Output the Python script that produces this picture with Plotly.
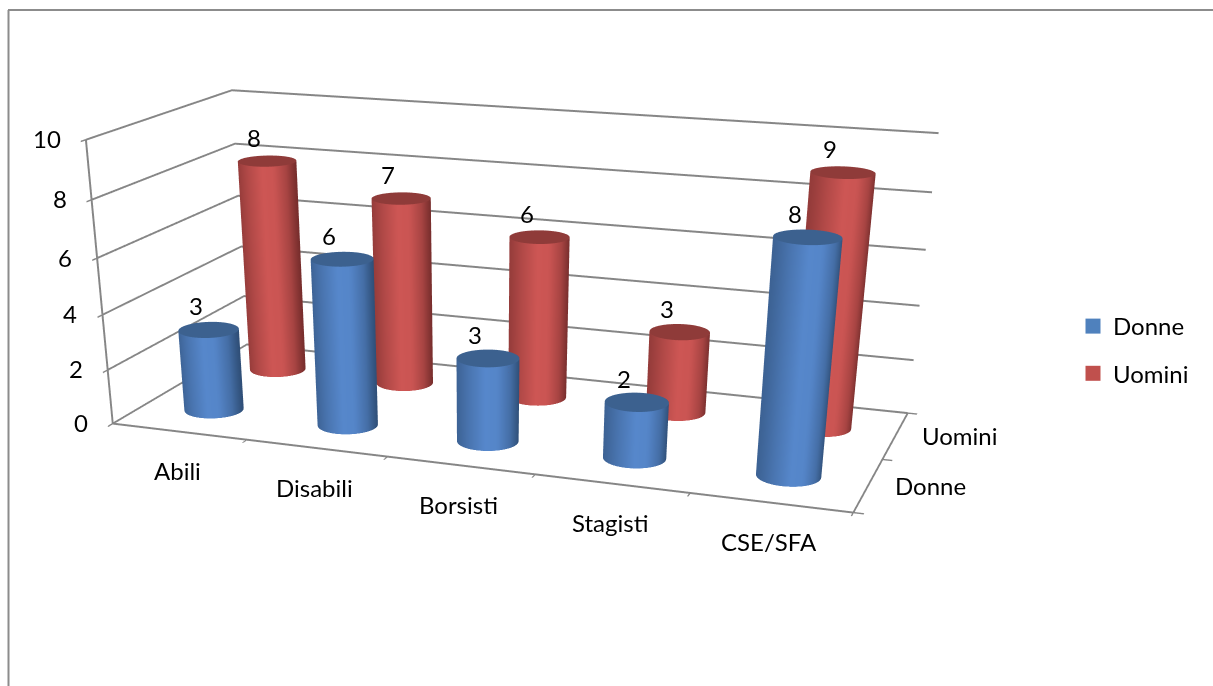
import numpy as np
import plotly.graph_objects as go

categories = ["Abili", "Disabili", "Borsisti", "Stagisti", "CSE/SFA"]
series_names = ["Donne", "Uomini"]
donne = [3, 6, 3, 2, 8]
uomini = [8, 7, 6, 3, 9]
z_ticks = [0, 2, 4, 6, 8, 10]

W, H = 1213, 1600
PX = 480.0
eye = np.array([1.649, -4.821, 1.256])
center = np.array([0.138, -0.647, -1.19])
asp = (2.0, 0.822, 0.735)

BLUE = ["#3C618F", "#2C4A70", "#5687CB"]
RED = ["#8F3B39", "#6F2A29", "#CD5654"]
xr, yr, zr = 5.0, 2.0, 10.0
f_vec = (eye-center)/np.linalg.norm(eye-center)
s_vec = np.cross([0, 0, 1.0], f_vec); s_vec /= np.linalg.norm(s_vec)
R_S = 0.081
rx, ry = R_S*xr/asp[0], R_S*yr/asp[1]
t = np.linspace(0, 2*np.pi, 73)

def cyl(xc, yc, h, pal):
    u = np.cos(t)*s_vec[0]+np.sin(t)*s_vec[1]
    u = u/np.abs(u).max()
    b = np.interp(u, [-1,-0.6,-0.1,0.3,0.7,1], [0.4,0.7,1,0.97,0.6,0.08])
    sc = 0.02+0.98*b
    ex, ey = xc+rx*np.cos(t), yc+ry*np.sin(t)
    X = np.vstack([ex, ex, ex, xc+0*t])
    Y = np.vstack([ey, ey, ey, yc+0*t])
    Z = np.vstack([0*t, h+0*t, h+0*t, h+0*t])
    C = np.vstack([sc, sc, 0*t, 0*t])
    return go.Surface(x=X, y=Y, z=Z, surfacecolor=C, cmin=0, cmax=1, showscale=False,
        colorscale=[[0,pal[0]],[0.02,pal[1]],[1,pal[2]]],
        lighting=dict(ambient=1,diffuse=0,specular=0,roughness=1,fresnel=0),
        hoverinfo="skip", showlegend=False)

fig = go.Figure()
for yc,vals,pal in ((1.5,uomini,RED),(0.5,donne,BLUE)):
    for i,v in enumerate(vals):
        fig.add_trace(cyl(i+0.5, yc, v, pal))
for name,col in zip(series_names,("#4F81BD","#C0504D")):
    fig.add_trace(go.Scatter3d(x=[None],y=[None],z=[None],mode="markers",name=name,legendgroup=name,
        marker=dict(symbol="square",size=15,color=col),hoverinfo="skip"))

FONT="Lato"; FS=24
tf=dict(family=FONT,size=FS,color="#000")
ann=[]
for i,c in enumerate(categories):
    ann.append(dict(x=i+0.5,y=0,z=0,text=c,showarrow=False,xshift=-2,yshift=-39,font=tf))
for j,nm in enumerate(series_names):
    ann.append(dict(x=5,y=j+0.5,z=0,text=nm,showarrow=False,xanchor="left",xshift=25,font=tf))
for v in z_ticks:
    ann.append(dict(x=0,y=0,z=v,text=str(v),showarrow=False,xanchor="right",xshift=-23,yshift=1,font=tf))
for j,vals in enumerate((donne,uomini)):
    for i,v in enumerate(vals):
        ann.append(dict(x=i+0.5,y=j+0.5,z=v,text=str(v),showarrow=False,xshift=-13,yshift=24,font=tf))

ax=dict(showbackground=False,showgrid=False,zeroline=False,showline=True,linecolor="#868686",linewidth=4,
        ticks="outside",ticklen=8,tickcolor="#868686",tickwidth=3,showticklabels=False,showspikes=False,title="")
fig.update_layout(width=W,height=H,margin=dict(l=0,r=0,t=0,b=0),paper_bgcolor="white",showlegend=True,
    legend=dict(x=1073/W,y=1-304/H,xanchor="left",yanchor="top",tracegroupgap=13,font=tf,itemsizing="trace",bgcolor="rgba(0,0,0,0)"),
    scene=dict(domain=dict(x=[0,2*PX/W],y=[0,1]),
        camera=dict(eye=dict(x=eye[0],y=eye[1],z=eye[2]),center=dict(x=center[0],y=center[1],z=center[2]),up=dict(x=0,y=0,z=1)),
        aspectmode="manual",aspectratio=dict(x=asp[0],y=asp[1],z=asp[2]),
        xaxis=dict(ax,range=[0,xr],tickvals=list(range(6)),ticktext=[""]*6),
        yaxis=dict(ax,range=[0,yr],tickvals=[0,1,2],ticktext=[""]*3),
        zaxis=dict(ax,range=[0,zr],tickvals=z_ticks,ticktext=[""]*6,showgrid=True,gridcolor="#868686",gridwidth=4),
        annotations=ann),
    shapes=[dict(type="line",xref="paper",yref="paper",x0=8.5/W,x1=8.5/W,y0=0,y1=1-10/H,line=dict(color="#8C8C8C",width=2)),
            dict(type="line",xref="paper",yref="paper",x0=8/W,x1=1,y0=1-10/H,y1=1-10/H,line=dict(color="#8C8C8C",width=2))])
fig.write_html("out.html",config=dict(displayModeBar=False),post_script="document.body.style.margin='0';document.documentElement.style.overflow='hidden';document.body.style.overflow='hidden';")
